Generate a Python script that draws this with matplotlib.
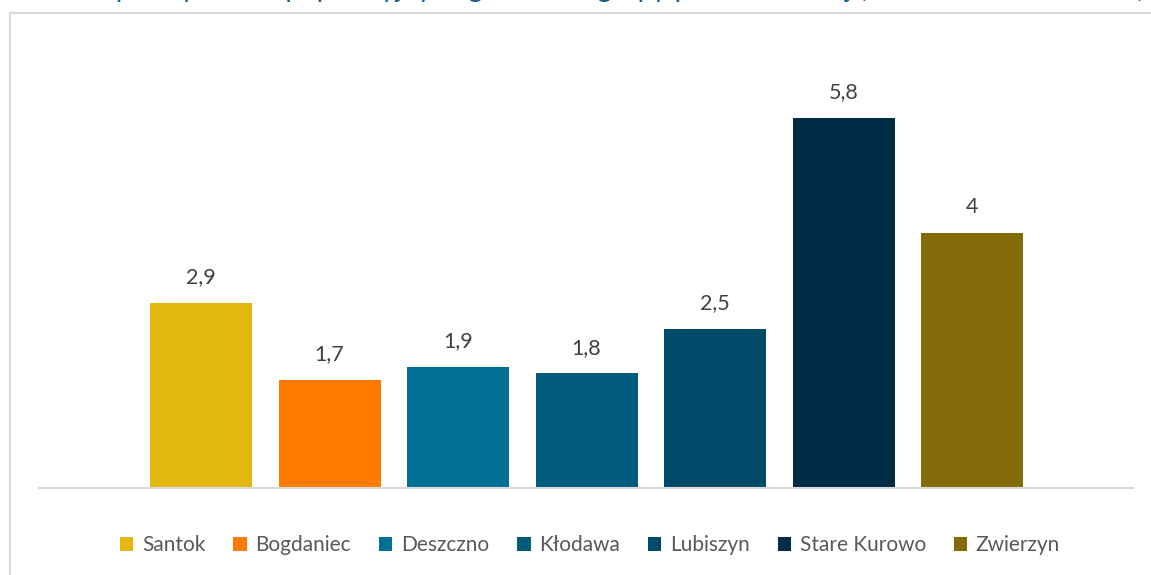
import matplotlib
matplotlib.use("Agg")
import matplotlib.pyplot as plt
from matplotlib.patches import Rectangle, Patch

categories = ["Santok", "Bogdaniec", "Deszczno", "Kłodawa", "Lubiszyn", "Stare Kurowo", "Zwierzyn"]
values = [2.9, 1.7, 1.9, 1.8, 2.5, 5.8, 4.0]
labels = ["2,9", "1,7", "1,9", "1,8", "2,5", "5,8", "4"]
colors = ["#E2B80F", "#FF7B00", "#026F94", "#005B7D", "#004A69", "#002C45", "#846B0A"]
title = "Współczynnik depopulacyjny w gminach z grupy porównawczej (na 1000 mieszkańców)"

W, H = 1151, 575
fig = plt.figure(figsize=(W / 100, H / 100), dpi=100)
plt.rcParams['font.family'] = ['Lato', 'DejaVu Sans']

# frame of chart area
fig.patches.append(Rectangle((10 / W, -0.1), 1.2, 1 - 13 / H + 0.1, transform=fig.transFigure,
                             fill=False, edgecolor="#D9D9D9", linewidth=1.5, zorder=0))

# title (largely clipped at the top edge, as in the source image)
fig.text(0.53, 1 + 3 / H, title, ha="center", va="baseline", fontsize=20, color="#17628C")

left, right = 39 / W, 1133 / W
bottom = 1 - 488 / H
top = 1 - 40 / H
ax = fig.add_axes([left, bottom, right - left, top - bottom])
x = list(range(len(categories)))
px_per_unit = 63.8
ax.set_ylim(0, (488 - 40) / px_per_unit)
unit_px = 128.5
ax.set_xlim(-(201 - 39) / unit_px, 6 + (1133 - 972) / unit_px)

bars = ax.bar(x, values, width=102 / unit_px, color=colors, zorder=2)
for xi, v, lab in zip(x, values, labels):
    ax.annotate(lab, (xi, v), xytext=(0, 14), textcoords="offset points",
                ha="center", va="baseline", fontsize=15.5, color="#404040")

for s in ["top", "right", "left"]:
    ax.spines[s].set_visible(False)
ax.spines["bottom"].set_color("#D9D9D9")
ax.spines["bottom"].set_linewidth(1.5)
ax.set_xticks([])
ax.set_yticks([])
ax.patch.set_alpha(0)

handles = [Patch(facecolor=c, edgecolor="none", label=n) for c, n in zip(colors, categories)]
fig.legend(handles=handles, loc="center", bbox_to_anchor=(590 / W, 1 - 545 / H), ncol=7,
           frameon=False, fontsize=15, labelcolor="#595959", handlelength=0.65, handleheight=0.65,
           handletextpad=0.4, columnspacing=1.35)

fig.savefig("out.png", dpi=100)
